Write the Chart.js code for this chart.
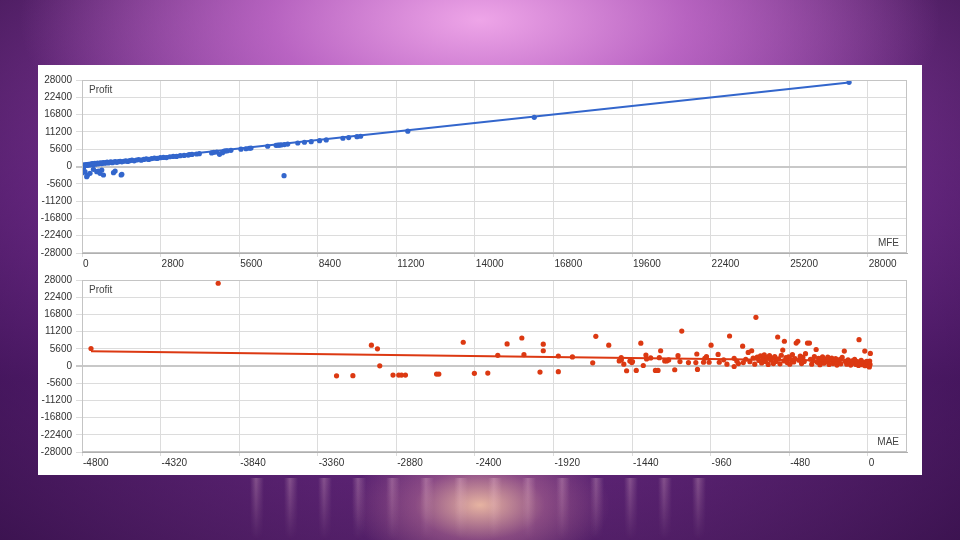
<!DOCTYPE html>
<html>
<head>
<meta charset="utf-8">
<script src="https://cdn.jsdelivr.net/npm/chart.js@4.4.1/dist/chart.umd.min.js"></script>
<style>
    body {
        margin: 0;
        width: 960px;
        height: 540px;
        overflow: hidden;
        position: relative;
        background:
            radial-gradient(ellipse 130px 70px at 480px 505px, rgba(255, 205, 170, 0.85), rgba(230, 150, 170, 0.35) 50%, rgba(0, 0, 0, 0) 100%),
            radial-gradient(ellipse 460px 200px at 480px 20px, rgba(238, 165, 232, 1), rgba(205, 115, 210, 0.75) 45%, rgba(150, 70, 170, 0) 100%),
            radial-gradient(ellipse 700px 420px at 480px 260px, rgba(120, 50, 150, 0) 40%, rgba(40, 8, 60, 0.75) 100%),
            linear-gradient(to bottom, #9a48b0 0%, #7c3298 35%, #5c2178 70%, #6a2c80 100%);
        font-family: "Liberation Sans", Arial, sans-serif;
    }

    .streaks {
        position: absolute;
        left: 250px;
        top: 478px;
        width: 460px;
        height: 62px;
        background: repeating-linear-gradient(90deg,
            rgba(255, 210, 220, 0) 0px,
            rgba(255, 210, 220, 0.28) 6px,
            rgba(255, 210, 220, 0) 14px,
            rgba(255, 210, 220, 0) 34px);
        -webkit-mask-image: linear-gradient(to bottom, rgba(0, 0, 0, 1), rgba(0, 0, 0, 0));
        mask-image: linear-gradient(to bottom, rgba(0, 0, 0, 1), rgba(0, 0, 0, 0));
    }

    .panel {
        position: absolute;
        left: 38px;
        top: 65px;
        width: 884px;
        height: 410px;
        background: #ffffff;
    }

    .panel canvas {
        position: absolute;
        left: 0;
    }
</style>
</head>
<body>
<div class="streaks"></div>
<div class="panel">
    <canvas id="mfeChart" width="884" height="205" style="top: 0px;"></canvas>
    <canvas id="maeChart" width="884" height="205" style="top: 205px;"></canvas>
</div>

<script>
// ---- data ----
const profitTicks = [-28000, -22400, -16800, -11200, -5600, 0, 5600, 11200, 16800, 22400, 28000];
const mfeTicks = [0, 2800, 5600, 8400, 11200, 14000, 16800, 19600, 22400, 25200, 28000];
const maeTicks = [-4800, -4320, -3840, -3360, -2880, -2400, -1920, -1440, -960, -480, 0];

const mfeValues = [
    0, 15, 25, 40, 55, 70, 85, 100, 120, 140, 160, 180, 200, 225, 250, 270, 295, 320, 345, 370,
    400, 430, 460, 490, 520, 555, 590, 620, 660, 700, 735, 775, 810, 850, 895, 940, 985, 1030, 1080, 1130,
    1185, 1240, 1300, 1360, 1420, 1490, 1560, 1630, 1700, 1780, 1860, 1940, 2020, 2110, 2200, 2290, 2380, 2480, 2580, 2680,
    2790, 2900, 3010, 3130, 3250, 3370, 3500, 3640, 3780, 3830, 3920, 4080, 4180, 4620, 4700, 4800, 4900,
    5007, 5067, 5128, 5185, 5307, 5665, 5843, 5961, 6022, 6616, 6916, 6980, 7034, 7095, 7213, 7331, 7689, 7928,
    8167, 8465, 8704, 9298, 9502, 9799, 9930, 11611, 16117, 27335,
    5, 20, 50, 107, 168, 190, 286, 408, 526, 586, 644, 705, 765, 1122, 1180, 1395, 1420, 7200
];
const mfeProfit = [
    150, -200, 300, 100, 400, 250, 500, 300, 450, 350, 600, 400, 550, 700, 450, 650, 800, 550, 750, 900,
    650, 850, 1000, 750, 950, 1100, 850, 1050, 1200, 950, 1150, 1300, 1050, 1250, 1400, 1150, 1350, 1500, 1250, 1450,
    1600, 1350, 1550, 1700, 1500, 1700, 1850, 1650, 1900, 2050, 1850, 2100, 2250, 2050, 2300, 2450, 2300, 2550, 2700, 2600,
    2850, 2950, 2900, 3150, 3250, 3250, 3500, 3600, 3700, 3850, 3900, 4050, 4150, 4400, 4600, 4700, 3950,
    4470, 5000, 5050, 5100, 5250, 5600, 5750, 5900, 5950, 6550, 6850, 6900, 6950, 7000, 7100, 7250, 7600, 7850,
    8050, 8350, 8600, 9150, 9350, 9650, 9800, 11450, 15930, 27250,
    -1200, -2000, -580, -1680, -3300, -2900, -2200, -900, -1680, -1460, -2200, -1130, -2750, -2000, -1460, -2750, -2530, -2980
];
const mfeTrendX = [0, 27335];
const mfeTrendY = [300, 27200];

const maeValues = [
    -4745, -3968, -3245, -3145, -3032, -2995, -2981, -2900, -2865, -2848, -2824, -2634, -2620, -2471, -2403, -2321,
    -2260, -2203, -2113, -2100, -2002, -1982, -1982, -1890, -1890, -1804, -1680, -1661, -1582, -1518, -1506, -1505,
    -1490, -1473, -1453, -1441, -1437, -1414, -1386, -1371, -1355, -1351, -1326, -1297, -1281, -1273, -1265, -1240,
    -1228, -1216, -1179, -1159, -1147, -1136, -1095, -1050, -1044, -1040, -1003, -995, -985, -969, -957, -914,
    -907, -880, -860, -844, -816, -816, -800, -790, -764, -760, -745, -730, -720, -709, -700, -690, -683, -675,
    -665, -655, -648, -640, -632, -625, -615, -608, -600, -592, -585, -576, -568, -560, -550, -545, -536, -528,
    -519, -512, -509, -500, -492, -484, -476, -468, -460, -452, -444, -437, -427, -420, -412, -404, -396, -388,
    -380, -368, -356, -350, -342, -334, -326, -315, -308, -300, -292, -284, -276, -268, -260, -252, -244, -236,
    -228, -220, -212, -204, -196, -188, -180, -172, -164, -156, -143, -136, -128, -120, -112, -104, -96, -88,
    -80, -72, -64, -56, -53, -48, -40, -32, -24, -18, -16, -10, -6, 0, 4, 8, 12, 16, 14, 10
];
const maeProfit = [
    5700, 26940, -3200, -3140, 6780, 5600, 60, -2940, -2940, -2940, -2940, -2620, -2620, 7740, -2400, -2300,
    3460, 7200, 9120, 3680, -1980, 7100, 4960, 3260, -1860, 2940, 1020, 9660, 6780, 1660, 2720, 2000,
    580, -1540, 1600, 1120, 1440, -1440, 7420, 160, 3580, 2300, 2620, -1440, -1440, 2720, 4960, 1660,
    1660, 1980, -1220, 3360, 1440, 11360, 1120, 1120, 3900, -1120, 1220, 2500, 3040, 1220, 6780, 3780,
    1220, 2000, 600, 9760, 2500, -160, 1600, 800, 6460, 1120, 2200, 4420, 1400, 4960, 2600, 600, 15840, 2900,
    1800, 3300, 1000, 2400, 3600, 1500, 2800, 500, 3400, 1900, 2600, 800, 3100, 1500, 9440, 2300, 700, 3500,
    5180, 1700, 8060, 2700, 1100, 3000, 600, 2100, 3700, 1300, 2400, 7470, 8060, 1900, 3200, 800, 2800, 1500,
    4000, 7470, 7470, 2200, 600, 1700, 3100, 5380, 1200, 2500, 400, 1800, 3000, 900, 2200, 1400, 2900, 500,
    1900, 2600, 800, 1600, 2400, 300, 1300, 2100, 700, 2800, 4860, 1500, 600, 2000, 1100, 300, 1700, 900,
    2200, 500, 1400, 200, 8580, 1000, 1800, 400, 1200, 4860, 100, 800, 1500, 300, 900, 0, 1600, 4100, 500, -300
];
const maeTrendX = [-4745, 16];
const maeTrendY = [4780, 1600];

const blue = "#3366cc";
const red = "#dc3912";

Chart.defaults.font.family = "'Liberation Sans', Arial, sans-serif";
Chart.defaults.font.size = 10;
Chart.defaults.color = "#444";

drawScatter("mfeChart", {
    xs: mfeValues,
    ys: mfeProfit,
    trendX: mfeTrendX,
    trendY: mfeTrendY,
    color: blue,
    xMin: 0,
    xMax: 29400,
    xTicks: mfeTicks,
    xName: "MFE",
    padTop: 15,
    axisHeight: 17
});

drawScatter("maeChart", {
    xs: maeValues,
    ys: maeProfit,
    trendX: maeTrendX,
    trendY: maeTrendY,
    color: red,
    xMin: -4800,
    xMax: 240,
    xTicks: maeTicks,
    xName: "MAE",
    padTop: 7,
    axisHeight: 23
});

function toPoints(xs, ys) {
    return xs.map((x, i) => ({ x: x, y: ys[i] }));
}

function drawScatter(id, cfg) {
    const labelsPlugin = {
        id: "cornerLabels",
        afterDraw(chart) {
            const area = chart.chartArea;
            const ctx = chart.ctx;
            ctx.save();
            ctx.strokeStyle = "#c4c4c4";
            ctx.lineWidth = 1;
            ctx.strokeRect(area.left + 0.5, area.top + 0.5, area.right - area.left - 1, area.bottom - area.top - 1);
            ctx.fillStyle = "#444";
            ctx.font = "10px 'Liberation Sans', Arial, sans-serif";
            ctx.textBaseline = "middle";
            ctx.textAlign = "left";
            ctx.fillText("Profit", area.left + 7, area.top + 10);
            ctx.textAlign = "right";
            ctx.fillText(cfg.xName, area.right - 8, area.bottom - 10);
            ctx.restore();
        }
    };

    new Chart(document.getElementById(id), {
        type: "scatter",
        data: {
            datasets: [
                {
                    type: "line",
                    data: toPoints(cfg.trendX, cfg.trendY),
                    borderColor: cfg.color,
                    borderWidth: 2,
                    pointRadius: 0,
                    fill: false,
                    tension: 0
                },
                {
                    data: toPoints(cfg.xs, cfg.ys),
                    backgroundColor: cfg.color,
                    borderWidth: 0,
                    pointRadius: 2.6,
                    pointHoverRadius: 2.6
                }
            ]
        },
        options: {
            responsive: false,
            animation: false,
            devicePixelRatio: 1,
            layout: {
                padding: { top: cfg.padTop, right: 15, left: 0, bottom: 0 }
            },
            plugins: {
                legend: { display: false },
                tooltip: { enabled: false }
            },
            scales: {
                x: {
                    type: "linear",
                    min: cfg.xMin,
                    max: cfg.xMax,
                    afterBuildTicks: function(scale) {
                        scale.ticks = cfg.xTicks.map(v => ({ value: v }));
                    },
                    afterFit: function(scale) {
                        scale.height = cfg.axisHeight;
                    },
                    ticks: {
                        maxRotation: 0,
                        autoSkip: false,
                        align: "start",
                        labelOffset: 1,
                        padding: 1,
                        color: "#333",
                        callback: function(value) {
                            return String(value);
                        }
                    },
                    grid: {
                        color: "#dcdcdc",
                        tickLength: 4
                    },
                    border: {
                        color: "#b0b0b0"
                    }
                },
                y: {
                    min: -28000,
                    max: 28000,
                    afterBuildTicks: function(scale) {
                        scale.ticks = profitTicks.map(v => ({ value: v }));
                    },
                    afterFit: function(scale) {
                        scale.width = 44;
                    },
                    ticks: {
                        autoSkip: false,
                        padding: 4,
                        color: "#333",
                        callback: function(value) {
                            return String(value);
                        }
                    },
                    grid: {
                        color: function(context) {
                            return context.tick && context.tick.value === 0 ? "#c8c8c8" : "#dcdcdc";
                        },
                        lineWidth: function(context) {
                            return context.tick && context.tick.value === 0 ? 2 : 1;
                        },
                        tickLength: 6
                    },
                    border: {
                        color: "#b0b0b0"
                    }
                }
            }
        },
        plugins: [labelsPlugin]
    });
}
</script>
</body>
</html>
